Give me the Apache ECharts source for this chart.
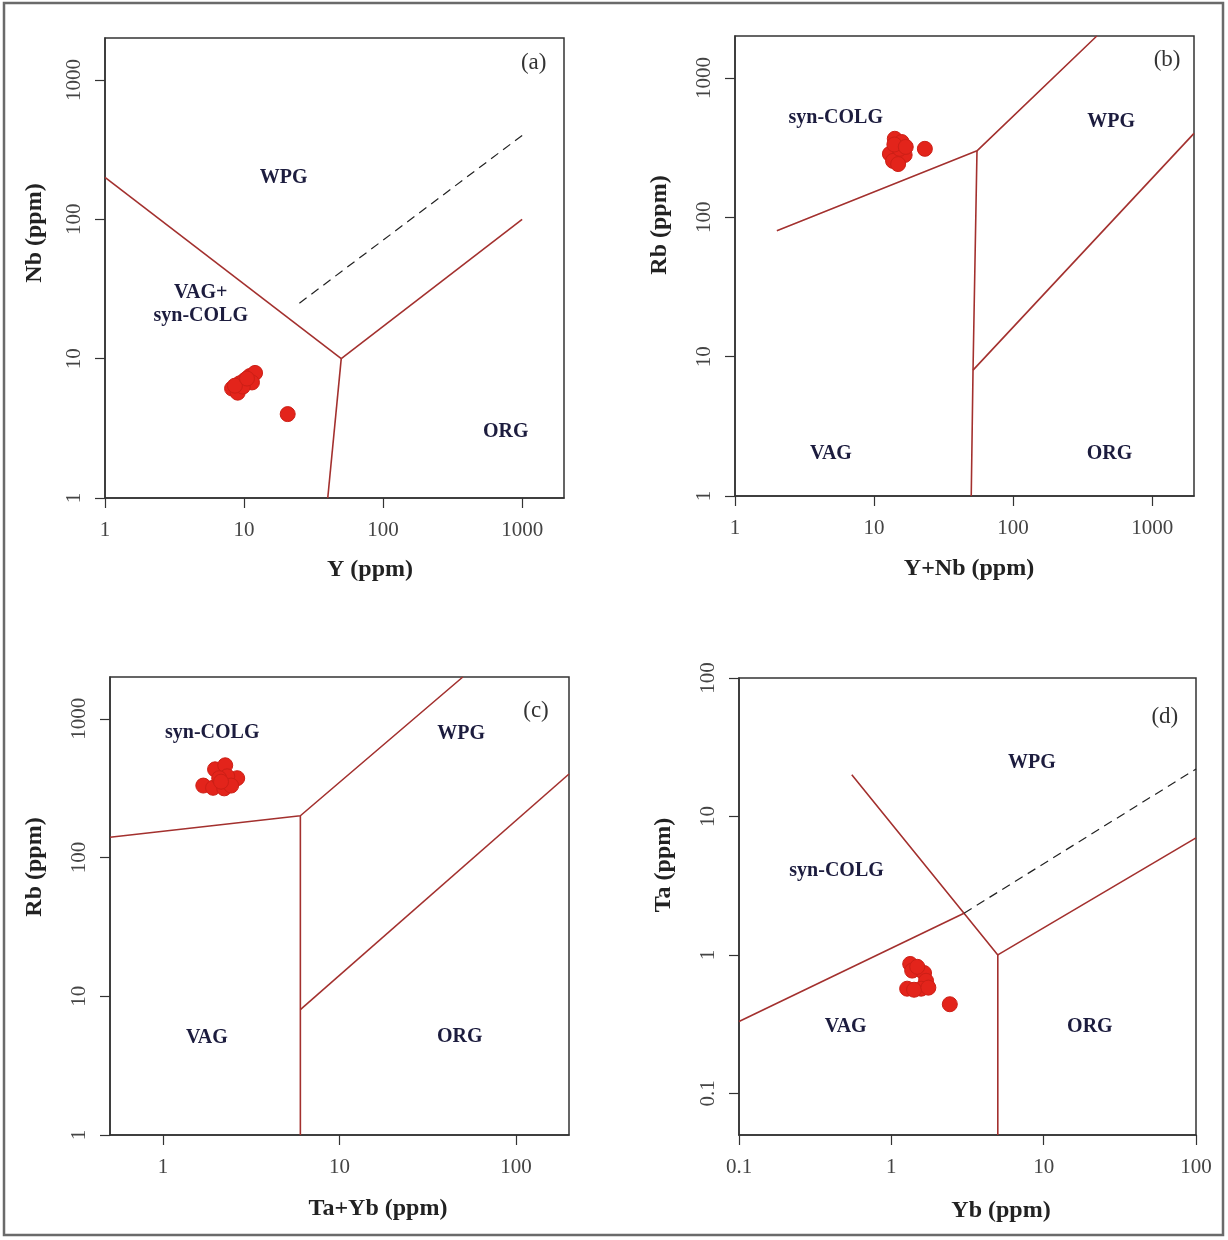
<!DOCTYPE html>
<html>
<head>
<meta charset="utf-8">
<script src="https://cdn.jsdelivr.net/npm/echarts@6/dist/echarts.min.js"></script>
<style>
html,body{margin:0;padding:0;background:#fff;}
#chart{width:1228px;height:1240px;}
</style>
</head>
<body>
<div id="chart"></div>
<script>
// ---------- DATA ----------
// (a) Y vs Nb
const aY  = [8.2, 9.0, 9.3, 10.1, 11.0, 12.0, 11.4, 9.8, 8.6, 10.5, 20.6];
const aNb = [6.1, 5.7, 6.65, 7.0, 7.5, 7.9, 6.75, 6.3, 6.4, 7.2, 4.0];
// (b) Y+Nb vs Rb
const bYNb = [14.1, 15.8, 13.0, 14.6, 16.6, 13.7, 15.3, 14.0, 16.9, 14.9, 23.2];
const bRb  = [366, 347, 285, 262, 280, 254, 310, 333, 320, 241, 310];
// (c) Ta+Yb vs Rb
const cTaYb = [1.69, 1.92, 2.22, 1.97, 2.25, 2.63, 2.31, 2.08, 2.43, 2.13];
const cRb   = [330, 318, 315, 432, 462, 373, 385, 373, 330, 352];
// (d) Yb vs Ta
const dYb = [1.33, 1.37, 1.64, 1.69, 1.57, 1.27, 1.41, 1.75, 1.48, 2.42];
const dTa = [0.86, 0.77, 0.74, 0.65, 0.57, 0.57, 0.56, 0.58, 0.82, 0.44];

// discrimination boundaries (Pearce et al. 1984)
const aLines  = [[[1,200],[50,10]], [[50,10],[1000,100]], [[50,10],[40,1]]];
const aDashed = [[25,25],[1000,400]];
const bLines  = [[[2,80],[55,300],[400,2000]], [[55,300],[51.5,8],[50,1]], [[51.5,8],[2000,400]]];
const cLines  = [[[0.5,140],[6,200],[50,2000]], [[6,200],[6,1]], [[6,8],[200,400]]];
const dLines  = [[[0.55,20],[3,2],[5,1],[5,0.05]], [[0.1,0.33],[3,2]], [[5,1],[100,7]]];
const dDashed = [[3,2],[100,22]];

// axis ranges & tick labels
const aXRange = [1, 2000],   aYRange = [1, 2000];
const bXRange = [1, 2000],   bYRange = [1, 2000];
const cXRange = [0.5, 200],  cYRange = [1, 2000];
const dXRange = [0.1, 100],  dYRange = [0.05, 100];
const aXTicks = [1,10,100,1000], aYTicks = [1,10,100,1000];
const bXTicks = [1,10,100,1000], bYTicks = [1,10,100,1000];
const cXTicks = [1,10,100],      cYTicks = [1,10,100,1000];
const dXTicks = [0.1,1,10,100],  dYTicks = [0.1,1,10,100];

// field names (text, x, y in data units)
const aFields = [['WPG',19.3,198],['VAG+\nsyn-COLG',4.88,24.4],['ORG',762,3.0]];
const bFields = [['syn-COLG',5.3,521],['WPG',507,484],['VAG',4.9,2.0],['ORG',494,2.0]];
const cFields = [['syn-COLG',1.9,795],['WPG',49,780],['VAG',1.77,5.0],['ORG',48,5.1]];
const dFields = [['syn-COLG',0.437,4.06],['WPG',8.37,24.3],['VAG',0.502,0.302],['ORG',20.1,0.302]];
const panelTags = [['(a)',1210,1324],['(b)',1280,1345],['(c)',130,1130],['(d)',62.4,52.4]];

const axisTitles = ['Y (ppm)','Y+Nb (ppm)','Ta+Yb (ppm)','Yb (ppm)'];
const yTitles = ['Nb (ppm)','Rb (ppm)','Rb (ppm)','Ta (ppm)'];

// ---------- BUILD ----------
const SERIF = '"Liberation Serif","DejaVu Serif",serif';
const LINE_COLOR = '#a3302e';
const DOT = '#e3241b';

const grids = [
  {left:105, top:38,  width:459, height:460},
  {left:735, top:36,  width:459, height:460},
  {left:110, top:677, width:459, height:458},
  {left:739, top:678, width:457, height:457}
].map(g => Object.assign(g, {show:true, borderColor:'#333', borderWidth:1.5, backgroundColor:'#fff', containLabel:false}));

function fmt(v){
  if (v >= 1) return String(Math.round(v));
  return String(Math.round(v*10)/10);
}
function makeAxis(idx, range, ticks, isY){
  return {
    type:'log', logBase:10, gridIndex:idx, min:range[0], max:range[1],
    axisLine:{show:true, lineStyle:{color:'#333', width:1.5}},
    axisTick:{show:true, length:10, inside:false, customValues:ticks, lineStyle:{color:'#333', width:1.2}},
    axisLabel:{show:true, customValues:ticks, formatter:fmt, fontFamily:SERIF, fontSize:21, color:'#444',
               rotate: isY ? 90 : 0, margin: isY ? 20 : 22},
    splitLine:{show:false}, minorTick:{show:false}, minorSplitLine:{show:false}
  };
}
const xAxes = [makeAxis(0,aXRange,aXTicks,false), makeAxis(1,bXRange,bXTicks,false), makeAxis(2,cXRange,cXTicks,false), makeAxis(3,dXRange,dXTicks,false)];
const yAxes = [makeAxis(0,aYRange,aYTicks,true), makeAxis(1,bYRange,bYTicks,true), makeAxis(2,cYRange,cYTicks,true), makeAxis(3,dYRange,dYTicks,true)];

const series = [];
function addLines(idx, lines){
  lines.forEach(l => series.push({type:'line', xAxisIndex:idx, yAxisIndex:idx, data:l, showSymbol:false, symbol:'none',
    lineStyle:{color:LINE_COLOR, width:1.6}, silent:true, z:2, animation:false}));
}
function addDashed(idx, l){
  series.push({type:'line', xAxisIndex:idx, yAxisIndex:idx, data:l, showSymbol:false, symbol:'none',
    lineStyle:{color:'#222', width:1.2, type:[9,6]}, silent:true, z:2, animation:false});
}
function addPoints(idx, xs, ys){
  series.push({type:'scatter', xAxisIndex:idx, yAxisIndex:idx, data:xs.map((x,i)=>[x,ys[i]]),
    symbolSize:15, itemStyle:{color:DOT, borderColor:'#cc1f16', borderWidth:1, opacity:1}, z:5, animation:false});
}
function addText(idx, items, bold, size, color){
  series.push({type:'scatter', xAxisIndex:idx, yAxisIndex:idx, silent:true, animation:false, z:6,
    symbolSize:2, itemStyle:{color:'rgba(0,0,0,0)', opacity:1},
    data:items.map(t=>({name:t[0], value:[t[1],t[2]]})),
    label:{show:true, position:'inside', formatter:p=>p.name, fontFamily:SERIF, fontSize:size,
           fontWeight: bold ? 'bold' : 'normal', color:color, opacity:1, lineHeight:23, align:'center', verticalAlign:'middle'},
    labelLayout:{hideOverlap:false}});
}
addLines(0, aLines); addDashed(0, aDashed); addPoints(0, aY, aNb); addText(0, aFields, true, 20, '#1c1c3e');
addLines(1, bLines); addPoints(1, bYNb, bRb); addText(1, bFields, true, 20, '#1c1c3e');
addLines(2, cLines); addPoints(2, cTaYb, cRb); addText(2, cFields, true, 20, '#1c1c3e');
addLines(3, dLines); addDashed(3, dDashed); addPoints(3, dYb, dTa); addText(3, dFields, true, 20, '#1c1c3e');
panelTags.forEach((t,i)=> addText(i, [t], false, 23, '#333'));

const xTitlePos = [[370,570],[969,569],[378,1209],[1001,1211]];
const yTitlePos = [[35,233],[660,225],[35,867],[664,865]];
const graphic = [
  {type:'rect', shape:{x:4, y:3, width:1219, height:1232}, style:{fill:null, stroke:'#6a6a6a', lineWidth:2.5}, silent:true, z:-10}
];
axisTitles.forEach((t,i)=> graphic.push({type:'text', x:xTitlePos[i][0], y:xTitlePos[i][1], silent:true,
  style:{text:t, fontFamily:SERIF, fontSize:24, fontWeight:'bold', fill:'#222', align:'center', verticalAlign:'middle'}}));
yTitles.forEach((t,i)=> graphic.push({type:'text', x:yTitlePos[i][0], y:yTitlePos[i][1], rotation:Math.PI/2, silent:true,
  style:{text:t, fontFamily:SERIF, fontSize:24, fontWeight:'bold', fill:'#222', align:'center', verticalAlign:'middle'}}));

const chart = echarts.init(document.getElementById('chart'), null, {renderer:'canvas'});
chart.setOption({
  backgroundColor:'#fff',
  animation:false,
  grid:grids, xAxis:xAxes, yAxis:yAxes, series:series, graphic:graphic
});
</script>
</body>
</html>
